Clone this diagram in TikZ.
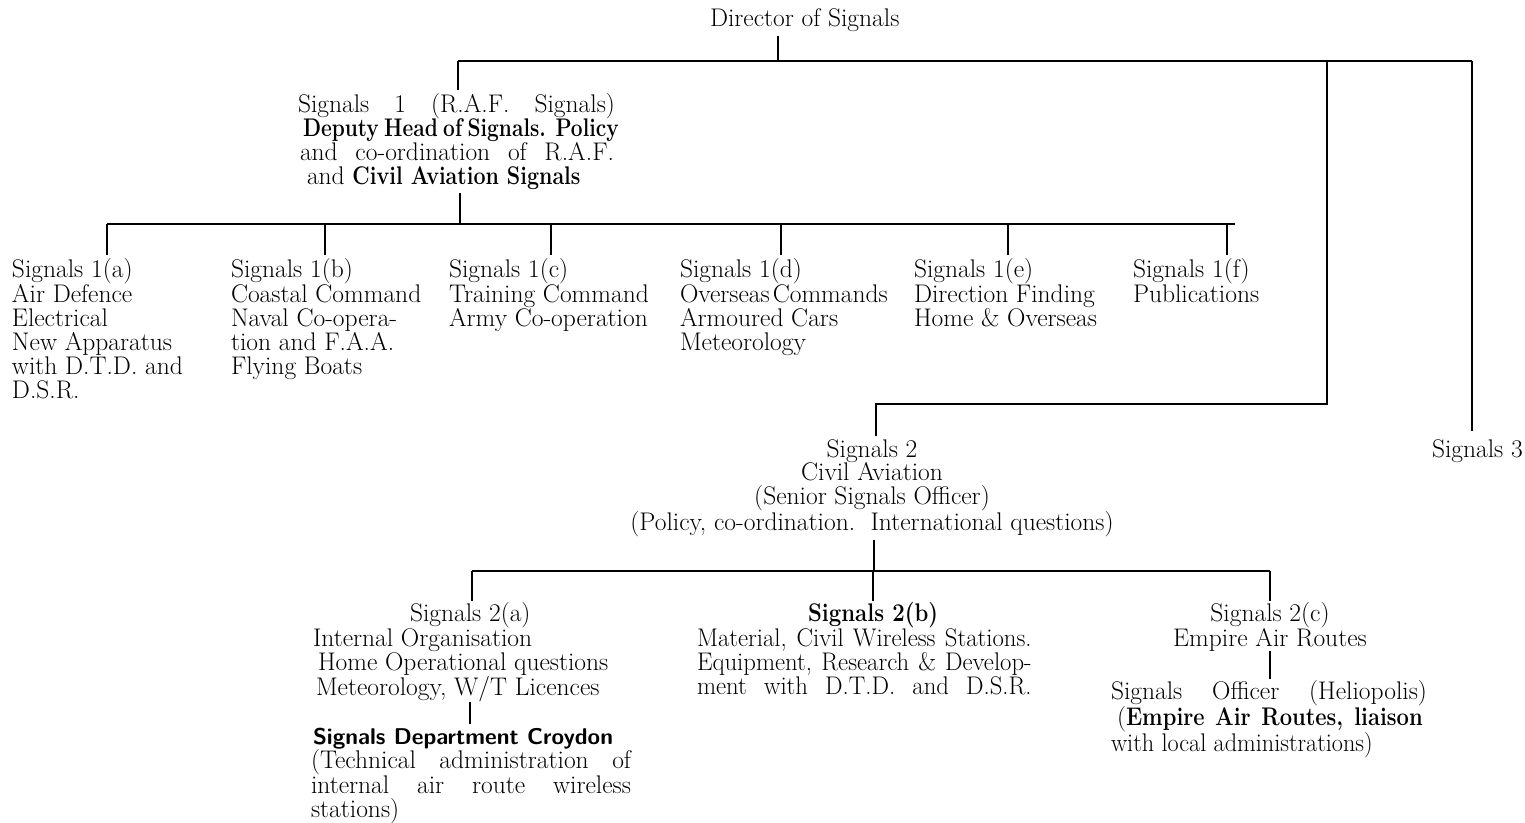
\documentclass[tikz,border=0pt]{standalone}
\usepackage{graphicx}
\newcommand\myst{\rule{0pt}{20pt}}
\newcommand\cbf[3]{\scalebox{#1}[1]{\makebox[#2][s]{\bfseries #3}}}
\begin{document}
\begin{tikzpicture}[x=1pt,y=-1pt,
  every node/.style={inner sep=0pt,outer sep=0pt},
  txt/.style={anchor=north west,align=left,font=\fontsize{25.5}{24}\selectfont},
  ctxt/.style={anchor=north,align=center,font=\fontsize{25.5}{23.7}\selectfont},
  ln/.style={line width=1.6pt,line cap=butt}]
\useasboundingbox (0,0) rectangle (1525,822);

% ---- nodes
\node[txt] (dir) at (710,6) {\myst Director of Signals};
\node[txt,font=\fontsize{25.5}{24.3}\selectfont] (s1) at (298,92) {\myst\makebox[317pt][s]{Signals 1 (R.A.F. Signals)}\\
  \hspace*{5pt}\cbf{0.82}{385pt}{Deputy Head of Signals. Policy}\\
  \hspace*{2pt}\makebox[314pt][s]{and co-ordination of R.A.F.}\\
  \hspace*{9pt}and \scalebox{0.84}[1]{\bfseries Civil Aviation Signals}};

\node[txt] (s1a) at (12,257)  {\myst Signals 1(a)\\Air Defence\\Electrical\\New Apparatus\\with D.T.D. and\\D.S.R.};
\node[txt] (s1b) at (231,257) {\myst Signals 1(b)\\Coastal Command\\Naval Co-opera-\\tion and F.A.A.\\Flying Boats};
\node[txt] (s1c) at (449,257) {\myst Signals 1(c)\\Training Command\\Army Co-operation};
\node[txt] (s1d) at (680,257) {\myst Signals 1(d)\\Overseas\hspace{3pt}Commands\\Armoured Cars\\Meteorology};
\node[txt] (s1e) at (914,257) {\myst Signals 1(e)\\Direction Finding\\Home \& Overseas};
\node[txt] (s1f) at (1133,257){\myst Signals 1(f)\\Publications};

\node[ctxt] (s2) at (872,437) {\myst Signals 2\\Civil Aviation\\(Senior Signals Officer)\\(Policy, co-ordination.\ \ International questions)};
\node[txt] (s3) at (1432,437) {\myst Signals 3};

\node[txt] (s2a) at (313,601) {\myst\hspace*{97pt}Signals 2(a)\\Internal Organisation\\
  \hspace*{5pt}Home Operational questions\\\hspace*{3pt}Meteorology, W/T Licences};
\node[txt] (s2b) at (697,601) {\myst\hspace*{111pt}\scalebox{0.87}[1]{\bfseries Signals 2(b)}\\
  \scalebox{0.97}[1]{\makebox[345pt][s]{Material, Civil Wireless Stations.}}\\
  \scalebox{0.97}[1]{\makebox[345pt][s]{Equipment, Research \& Develop-}}\\
  \scalebox{0.97}[1]{\makebox[345pt][s]{ment with D.T.D. and D.S.R.}}};
\node[ctxt,font=\fontsize{25.5}{24}\selectfont] (s2c) at (1270,601) {\myst Signals 2(c)\\Empire Air Routes};

\node[txt] (sho) at (1111,679) {\myst\makebox[316pt][s]{Signals Officer (Heliopolis)}\\
  \hspace*{6pt}\makebox[310pt][s]{(\scalebox{0.86}[1]{\makebox[345pt][s]{\bfseries Empire Air Routes, liaison}}}\\
  \scalebox{0.95}[1]{with local administrations)}};
\node[txt] (sdc) at (311,724) {\myst\hspace*{2pt}{\sffamily\bfseries\fontsize{22.8}{24}\selectfont Signals Department Croydon}\\
  \makebox[320pt][s]{(Technical administration of}\\
  \makebox[320pt][s]{internal air route wireless}\\
  stations)};

% ---- junction coordinates
\coordinate (jd) at (778,61);
\coordinate (b1l) at (458,61);
\coordinate (b1m) at (1327,61);
\coordinate (b1r) at (1472,61);
\coordinate (b2r) at (1327,404);
\coordinate (b2l) at (876,404);
\coordinate (j1) at (460,224);
\coordinate (c1l) at (107,224);
\coordinate (c1r) at (1235,224);
\coordinate (ja) at (107,224);
\coordinate (jb) at (325,224);
\coordinate (jc) at (551,224);
\coordinate (jdd) at (781,224);
\coordinate (je) at (1008,224);
\coordinate (jf) at (1227,224);
\coordinate (j2) at (874,571);
\coordinate (c2l) at (472,571);
\coordinate (c2r) at (1270,571);
\coordinate (k2b) at (873,571);
\coordinate (k2a) at (470,700);
\coordinate (k2c) at (1270,651);

% ---- connectors
\draw[ln,shorten <=5pt] (dir.south -| jd) -- (jd);
\draw[ln] (b1l) -- (b1r);
\draw[ln,shorten >=2pt] (b1l) -- (s1.north -| b1l);
\draw[ln,shorten >=6pt] (b1r) -- (s3.north -| b1r);
\draw[ln,shorten >=1pt] (b1m) -- (b2r) -- (b2l) -- (s2.north -| b2l);
\draw[ln,shorten <=3pt] (s1.south -| j1) -- (j1);
\draw[ln] (c1l) -- (c1r);
\draw[ln,shorten >=2pt] (ja) -- (s1a.north -| ja);
\draw[ln,shorten >=2pt] (jb) -- (s1b.north -| jb);
\draw[ln,shorten >=2pt] (jc) -- (s1c.north -| jc);
\draw[ln,shorten >=2pt] (jdd) -- (s1d.north -| jdd);
\draw[ln,shorten >=2pt] (je) -- (s1e.north -| je);
\draw[ln,shorten >=2pt] (jf) -- (s1f.north -| jf);
\draw[ln,shorten <=3pt] (s2.south -| j2) -- (j2);
\draw[ln] (c2l) -- (c2r);
\draw[ln] (c2l) -- (s2a.north -| c2l);
\draw[ln] (k2b) -- (s2b.north -| k2b);
\draw[ln] (c2r) -- (s2c.north -| c2r);
\draw[ln,shorten <=2pt] (k2a) -- (sdc.north -| k2a);
\draw[ln] (k2c) -- (sho.north -| k2c);
\end{tikzpicture}
\end{document}
